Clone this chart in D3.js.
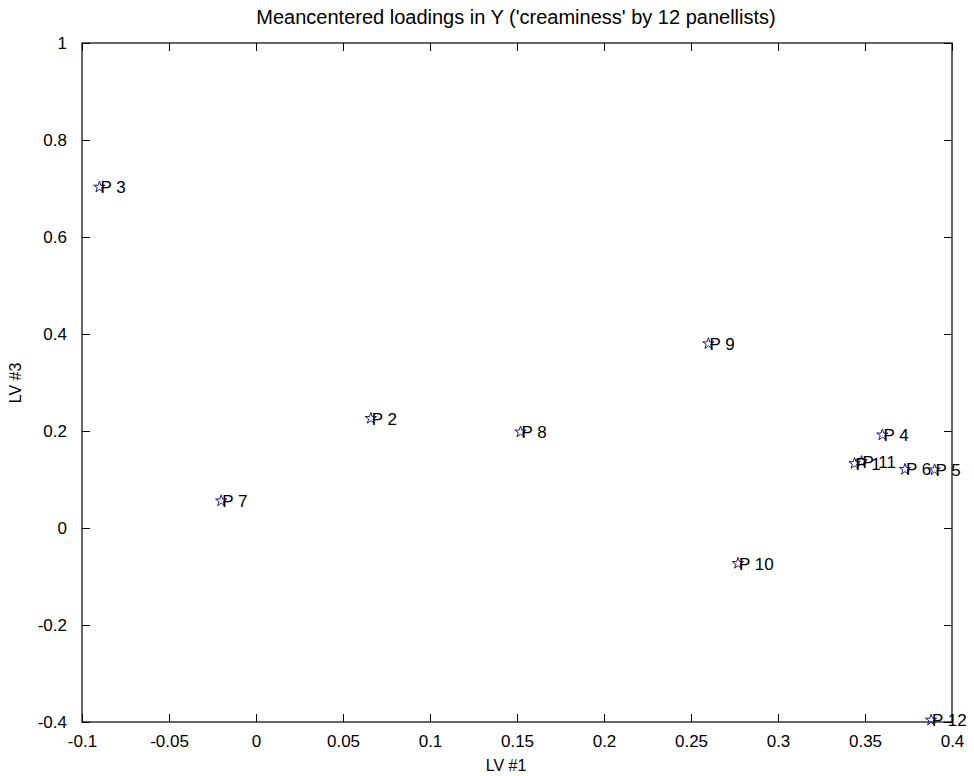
<!DOCTYPE html>
<html>
<head>
<meta charset="utf-8">
<script src="https://cdn.jsdelivr.net/npm/d3@7"></script>
<style>
  html, body { margin: 0; padding: 0; background: #fff; }
  svg { display: block; font-family: "Liberation Sans", Arial, Helvetica, sans-serif; }
</style>
</head>
<body>
<svg id="chart" width="974" height="776"></svg>
<script>
const labels = ["P 1", "P 2", "P 3", "P 4", "P 5", "P 6", "P 7", "P 8", "P 9", "P 10", "P 11", "P 12"];
const lv1 = [0.344, 0.066, -0.090, 0.360, 0.390, 0.373, -0.020, 0.152, 0.260, 0.277, 0.348, 0.388];
const lv3 = [0.133, 0.226, 0.703, 0.192, 0.120, 0.121, 0.056, 0.198, 0.380, -0.073, 0.137, -0.396];
const xTicks = [-0.1, -0.05, 0, 0.05, 0.1, 0.15, 0.2, 0.25, 0.3, 0.35, 0.4];
const yTicks = [-0.4, -0.2, 0, 0.2, 0.4, 0.6, 0.8, 1];
const xDomain = [-0.1, 0.4];
const yDomain = [-0.4, 1];
const titleText = "Meancentered loadings in Y ('creaminess' by 12 panellists)";
const xLabel = "LV #1";
const yLabel = "LV #3";

const svg = d3.select("#chart");
const L = 82, R = 952, T = 43, B = 722;
const x = d3.scaleLinear().domain(xDomain).range([L, R]);
const y = d3.scaleLinear().domain(yDomain).range([B, T]);
const fmt = d => (d === 0 ? "0" : String(d));
const tickLen = 8;

// frame
svg.append("rect").attr("x", L).attr("y", T).attr("width", R - L).attr("height", B - T)
  .attr("fill", "none").attr("stroke", "#000").attr("stroke-width", 1.2);

// axes (ticks inside, mirrored)
const gx = svg.append("g").attr("transform", `translate(0,${B})`)
  .call(d3.axisBottom(x).tickValues(xTicks).tickFormat(fmt).tickSizeInner(-tickLen).tickSizeOuter(0).tickPadding(16));
const gxt = svg.append("g").attr("transform", `translate(0,${T})`)
  .call(d3.axisTop(x).tickValues(xTicks).tickFormat("").tickSizeInner(-tickLen).tickSizeOuter(0));
const gy = svg.append("g").attr("transform", `translate(${L},0)`)
  .call(d3.axisLeft(y).tickValues(yTicks).tickFormat(fmt).tickSizeInner(-tickLen).tickSizeOuter(0).tickPadding(15));
const gyr = svg.append("g").attr("transform", `translate(${R},0)`)
  .call(d3.axisRight(y).tickValues(yTicks).tickFormat("").tickSizeInner(-tickLen).tickSizeOuter(0));

[gx, gxt, gy, gyr].forEach(g => {
  g.select(".domain").remove();
  g.selectAll("line").attr("stroke", "#000").attr("stroke-width", 1);
  g.selectAll("text").attr("fill", "#000").style("font-size", "17px")
    .style("font-family", "'Liberation Sans', Arial, sans-serif");
});
gx.selectAll("text").attr("dy", "0.5em");

// title and axis labels
svg.append("text").attr("x", 516).attr("y", 24).attr("text-anchor", "middle")
  .style("font-size", "20px").attr("fill", "#000").text(titleText);
svg.append("text").attr("x", 506).attr("y", 771).attr("text-anchor", "middle")
  .style("font-size", "16px").attr("fill", "#000").text(xLabel);
svg.append("text").attr("transform", `translate(21,383) rotate(-90)`)
  .attr("text-anchor", "middle").style("font-size", "16px").attr("fill", "#000").text(yLabel);

// points
const data = labels.map((l, i) => ({ label: l, a: lv1[i], b: lv3[i] }));
const star = d3.symbol().type(d3.symbolStar).size(40);
svg.append("g").selectAll("path").data(data).join("path")
  .attr("d", star)
  .attr("transform", d => `translate(${x(d.a)},${y(d.b)})`)
  .attr("fill", "none").attr("stroke", "#1a1a8c").attr("stroke-width", 1);

svg.append("g").selectAll("text").data(data).join("text")
  .attr("x", d => x(d.a) + 1).attr("y", d => y(d.b)).attr("dy", "0.36em")
  .style("font-size", "17px").attr("fill", "#000").text(d => d.label);
</script>
</body>
</html>
